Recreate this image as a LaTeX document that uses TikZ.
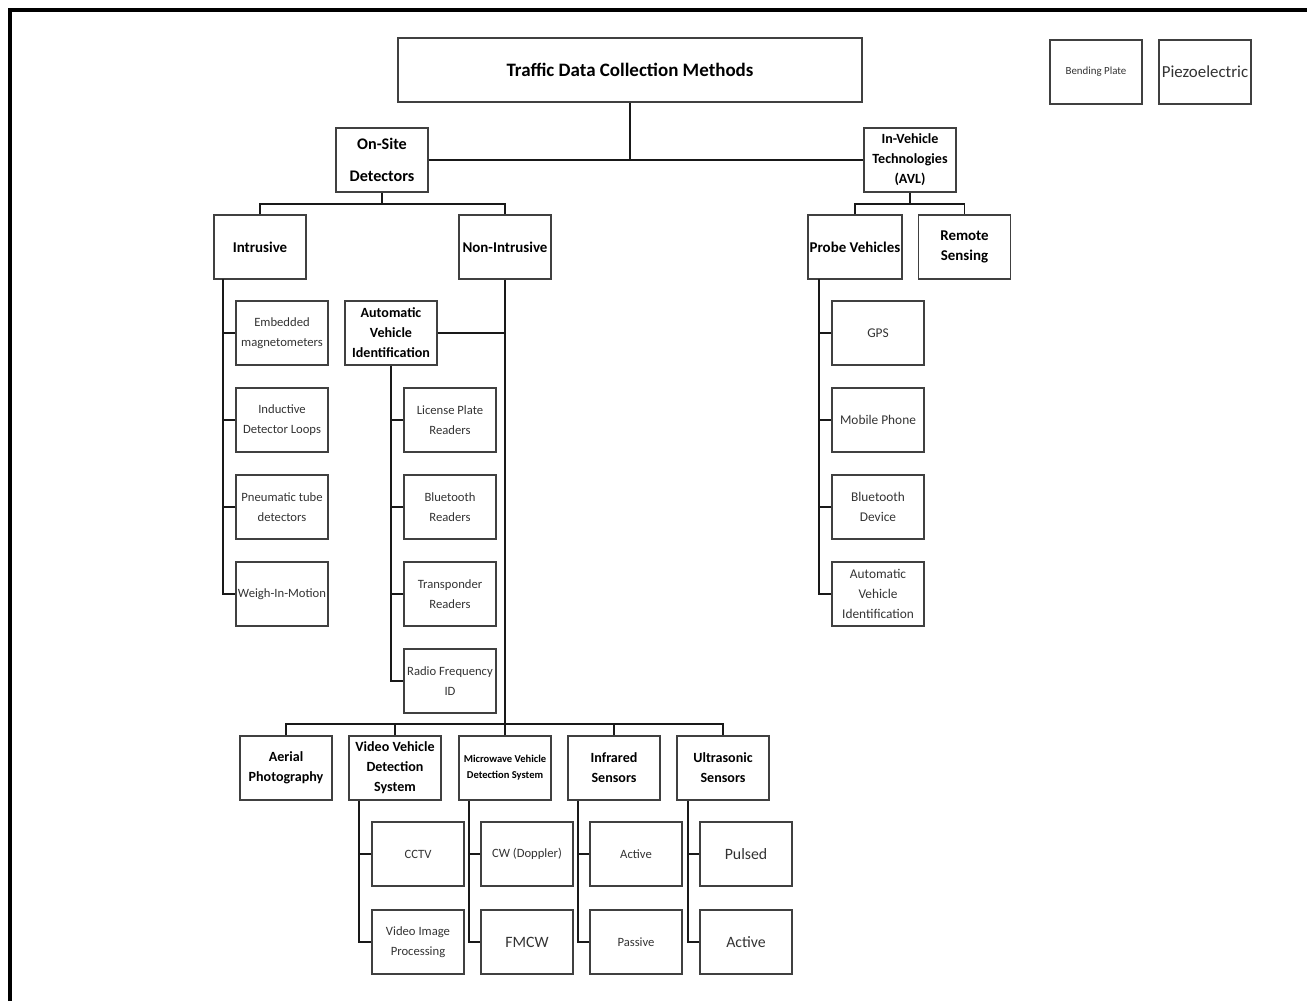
\documentclass[tikz,border=0pt]{standalone}
\usepackage{fontspec}
\setmainfont{Carlito}
\usetikzlibrary{positioning}
\tikzset{
  box/.style={draw=black!75, line width=0.75pt, minimum width=1.84cm, minimum height=1.28cm,
    inner sep=1pt, align=center, text=black!80, font=\fontsize{7.2}{11.4}\selectfont},
  hbox/.style={box, text=black, font=\bfseries\fontsize{8}{11.4}\selectfont},
  link/.style={line width=1.1pt, black!90}
}
\begin{document}
\begin{tikzpicture}[x=0.02cm,y=-0.02cm]
  \useasboundingbox (0,0) rectangle (1307,1001);
  % page frame
  \draw[line width=2.3pt] (10,1001) -- (10,10) -- (1307,10);

  % top level
  \node[hbox, minimum width=9.28cm, font=\bfseries\fontsize{10.8}{12}\selectfont] (title) at (630,70) {Traffic Data Collection Methods};
  \node[box, font=\fontsize{6.2}{7}\selectfont] (bend) at (1096,72) {Bending Plate};
  \node[box, font=\fontsize{9.6}{11}\selectfont] (piezo) at (1205,72) {Piezoelectric};

  \node[hbox, font=\bfseries\fontsize{9.2}{11}\selectfont] (onsite) at (382,160) {On-Site\\[7pt]Detectors};
  \node[hbox] (invehicle) at (910,160) {In-Vehicle\\Technologies\\(AVL)};

  \node[hbox, font=\bfseries\fontsize{8.5}{11.4}\selectfont] (intr) at (260,247) {Intrusive};
  \node[hbox, font=\bfseries\fontsize{8.5}{11.4}\selectfont] (nonintr) at (505,247) {Non-Intrusive};
  \node[hbox, font=\bfseries\fontsize{8.5}{11.4}\selectfont] (probe) at (855,247) {Probe Vehicles};
  \node[hbox, font=\bfseries\fontsize{8.5}{11.4}\selectfont] (remote) at (964.5,247) {Remote\\Sensing};

  % intrusive
  \node[box] (emb) at (282,333) {Embedded\\magnetometers};
  \node[box] (ind) at (282,420) {Inductive\\Detector Loops};
  \node[box] (pne) at (282,507) {Pneumatic tube\\detectors};
  \node[box] (wim) at (282,594) {Weigh-In-Motion};

  % automatic vehicle identification
  \node[hbox] (avi) at (391,333) {Automatic\\Vehicle\\Identification};
  \node[box] (lpr) at (450,420) {License Plate\\Readers};
  \node[box] (btr) at (450,507) {Bluetooth\\Readers};
  \node[box] (trr) at (450,594) {Transponder\\Readers};
  \node[box] (rfid) at (450,681) {Radio Frequency\\ID};

  % probe vehicles
  \node[box, font=\fontsize{7.6}{11.4}\selectfont] (gps) at (878,333) {GPS};
  \node[box, font=\fontsize{7.6}{11.4}\selectfont] (mob) at (878,420) {Mobile Phone};
  \node[box, font=\fontsize{7.6}{11.4}\selectfont] (btd) at (878,507) {Bluetooth\\Device};
  \node[box, font=\fontsize{7.6}{11.4}\selectfont] (avitwo) at (878,594) {Automatic\\Vehicle\\Identification};

  % bottom row
  \node[hbox] (aerial) at (286,768) {Aerial\\Photography};
  \node[hbox] (video) at (395,768) {Video Vehicle\\Detection\\System};
  \node[hbox, font=\bfseries\fontsize{6}{9}\selectfont] (micro) at (505,768) {Microwave Vehicle\\Detection System};
  \node[hbox] (infra) at (614,768) {Infrared\\Sensors};
  \node[hbox] (ultra) at (723,768) {Ultrasonic\\Sensors};

  \node[box] (cctv) at (418,854) {CCTV};
  \node[box] (vip) at (418,942) {Video Image\\Processing};
  \node[box] (cw) at (527,854) {CW (Doppler)};
  \node[box, font=\fontsize{9}{11}\selectfont] (fmcw) at (527,942) {FMCW};
  \node[box] (iract) at (636,854) {Active};
  \node[box] (irpas) at (636,942) {Passive};
  \node[box, font=\fontsize{9}{11}\selectfont] (puls) at (746,854) {Pulsed};
  \node[box, font=\fontsize{9}{11}\selectfont] (usact) at (746,942) {Active};

  % connectors
  \draw[link] (title.south) -- (title.south |- onsite.east);
  \draw[link] (onsite.east) -- (invehicle.west);

  \coordinate (jon) at (382,204);
  \draw[link] (onsite.south) -- (jon);
  \draw[link] (intr.north) |- (jon) -| (nonintr.north);
  \coordinate (jin) at (910,204);
  \draw[link] (invehicle.south) -- (jin);
  \draw[link] (probe.north) |- (jin) -| (remote.north);

  \coordinate (tintr) at (223,279);
  \draw[link] (tintr) |- (wim.west);
  \foreach \c in {emb,ind,pne}
    \draw[link] (\c.west) -- (\c.west -| tintr);

  \coordinate (jbot) at (505,724);
  \draw[link] (nonintr.south) -- (jbot);
  \draw[link] (avi.east) -- (avi.east -| jbot);
  \draw[link] (aerial.north) |- (jbot) -| (ultra.north);
  \foreach \c in {video,micro,infra}
    \draw[link] (\c.north) -- (\c.north |- jbot);

  \draw[link] (avi.south) |- (rfid.west);
  \foreach \c in {lpr,btr,trr}
    \draw[link] (\c.west) -- (\c.west -| avi.south);

  \coordinate (tprobe) at (819,279);
  \draw[link] (tprobe) |- (avitwo.west);
  \foreach \c in {gps,mob,btd}
    \draw[link] (\c.west) -- (\c.west -| tprobe);

  \foreach \p/\a/\b/\t in {video/cctv/vip/359, micro/cw/fmcw/469, infra/iract/irpas/578, ultra/puls/usact/688} {
    \draw[link] (\p.south -| \t,0) |- (\b.west);
    \draw[link] (\a.west) -- (\a.west -| \t,0);
  }
\end{tikzpicture}
\end{document}
